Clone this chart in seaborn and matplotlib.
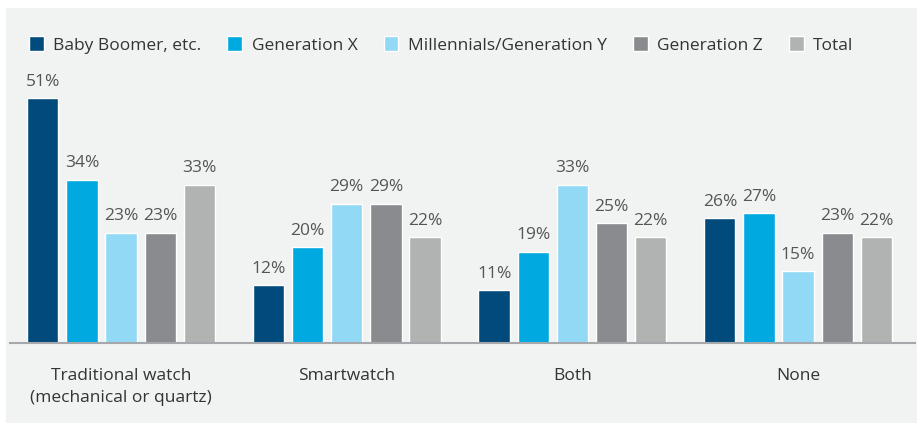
import pandas as pd
import seaborn as sns
import matplotlib.pyplot as plt
from matplotlib.patches import Rectangle

# data
categories = ['Traditional watch\n(mechanical or quartz)', 'Smartwatch', 'Both', 'None']
generations = ['Baby Boomer, etc.', 'Generation X', 'Millennials/Generation Y', 'Generation Z', 'Total']
baby_boomer = [51, 12, 11, 26]
gen_x = [34, 20, 19, 27]
millennials = [23, 29, 33, 15]
gen_z = [23, 29, 25, 23]
total = [33, 22, 22, 22]

colors = ['#004a7c', '#00a9e0', '#92d9f5', '#898b8e', '#b1b3b3']

rows = []
for gen, vals in zip(generations, [baby_boomer, gen_x, millennials, gen_z, total]):
    for cat, v in zip(categories, vals):
        rows.append({'category': cat, 'generation': gen, 'share': v})
df = pd.DataFrame(rows)

sns.set_style('white')
plt.rcParams['font.family'] = ['Open Sans', 'DejaVu Sans']

fig = plt.figure(figsize=(9.17, 4.3), dpi=100, facecolor='white')
# light grey panel behind the chart
fig.patches.append(Rectangle((6 / 917, 7 / 430), 911 / 917, 415 / 430,
                             transform=fig.transFigure, facecolor='#f1f2f2',
                             edgecolor='none', zorder=-10))

ax = fig.add_axes([10 / 917, 87 / 430, 905 / 917, 288 / 430])
ax.set_facecolor('none')

sns.barplot(data=df, x='category', y='share', hue='generation', order=categories,
            hue_order=generations, palette=colors, width=0.867, gap=0.2,
            saturation=1, ax=ax)

for c in ax.containers:
    ax.bar_label(c, labels=[f'{int(v)}%' for v in c.datavalues], padding=6,
                 fontsize=12.5, color='#555555')

ax.set_ylim(0, 60)
ax.set_xlim(-0.492, 3.518)
ax.set_xlabel('')
ax.set_ylabel('')
ax.set_yticks([])
ax.tick_params(axis='x', length=0, pad=18, labelsize=12.5, labelcolor='#333333')
for lab in ax.get_xticklabels():
    lab.set_linespacing(1.5)
for s in ['top', 'right', 'left']:
    ax.spines[s].set_visible(False)
ax.spines['bottom'].set_color('#a6a8ab')
ax.spines['bottom'].set_linewidth(1.5)

ax.legend(loc='upper left', bbox_to_anchor=(12 / 905, 1 + 26 / 288), ncol=5,
          frameon=False, handlelength=0.85, handleheight=1.0, handletextpad=0.55,
          columnspacing=1.5, fontsize=12.5, labelcolor='#333333', borderaxespad=0)

plt.savefig('out.png', dpi=100)
